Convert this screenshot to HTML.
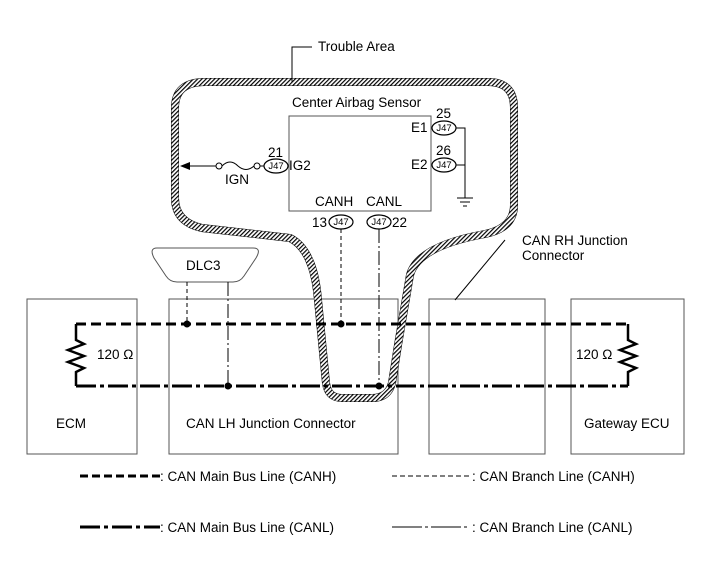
<!DOCTYPE html>
<html><head><style>
body{margin:0;background:#fff}
svg{display:block;font-family:"Liberation Sans",Arial,sans-serif}
</style></head><body>
<svg width="713" height="581" viewBox="0 0 713 581" xmlns="http://www.w3.org/2000/svg">
<defs>
<pattern id="h" width="3" height="3" patternUnits="userSpaceOnUse" patternTransform="rotate(45)">
<rect width="3" height="3" fill="#fff"/><rect width="1.2" height="3" fill="#000"/>
</pattern>
</defs>
<g fill="none" stroke="#555" stroke-width="1">
<rect x="27" y="299" width="110" height="155"/>
<rect x="169" y="299" width="229" height="155"/>
<rect x="429" y="299" width="116" height="155"/>
<rect x="571" y="299" width="113" height="155"/>
<rect x="289" y="116" width="142" height="95"/>
</g>
<path id="ta" d="M205,82 H488 Q514,82 514,108 V205 Q514,228 485,234 Q418,246 410,275 L398,345 L392,383 Q388,398 372,398 H342 Q328,398 326,383 L318,300 Q314,250 290,238 L202,228 Q175,222 175,198 V108 Q175,82 205,82 Z" fill="none" stroke="#000" stroke-width="8"/>
<path d="M205,82 H488 Q514,82 514,108 V205 Q514,228 485,234 Q418,246 410,275 L398,345 L392,383 Q388,398 372,398 H342 Q328,398 326,383 L318,300 Q314,250 290,238 L202,228 Q175,222 175,198 V108 Q175,82 205,82 Z" fill="none" stroke="url(#h)" stroke-width="7"/>
<polyline points="292,82 292,47 312,47" fill="none" stroke="#000" stroke-width="1"/>
<text x="318" y="51" font-size="13.5">Trouble Area</text>
<text x="292" y="107" font-size="13.5">Center Airbag Sensor</text>
<g fill="#fff" stroke="#000" stroke-width="1.2">
<ellipse cx="444" cy="128" rx="12" ry="7"/>
<ellipse cx="444" cy="165" rx="12" ry="7"/>
<ellipse cx="276" cy="166" rx="12" ry="7"/>
<ellipse cx="341" cy="222" rx="12" ry="7"/>
<ellipse cx="379" cy="222" rx="12" ry="7"/>
</g>
<g font-size="9.5" text-anchor="middle">
<text x="444" y="131">J47</text><text x="444" y="168">J47</text><text x="276" y="169">J47</text>
<text x="341" y="225">J47</text><text x="379" y="225">J47</text>
</g>
<g font-size="13.5">
<text x="436" y="118">25</text><text x="436" y="155">26</text>
<text x="411" y="132">E1</text><text x="411" y="169">E2</text>
<text x="268" y="157">21</text><text x="289" y="170">IG2</text>
<text x="315" y="206">CANH</text><text x="366" y="206">CANL</text>
<text x="312" y="227">13</text><text x="392" y="227">22</text>
<text x="225" y="184">IGN</text>
</g>
<g fill="none" stroke="#000" stroke-width="1">
<polyline points="456,128 465,128 465,198"/>
<line x1="456" y1="165" x2="465" y2="165"/>
<line x1="457" y1="198" x2="473" y2="198"/><line x1="460" y1="202" x2="470" y2="202"/><line x1="463" y1="206" x2="467" y2="206"/>
<line x1="190" y1="166" x2="216" y2="166"/>
<circle cx="219" cy="166" r="3"/>
<path d="M222,166 Q230,158 238,166 Q246,173 254,166"/>
<circle cx="257" cy="166" r="3"/>
<line x1="260" y1="166" x2="264" y2="166"/>
</g>
<polygon points="180,166 190,162 190,170" fill="#000"/>
<path d="M157,248 H253 Q262,248 256,258 L244,276 Q240,282 233,282 H177 Q170,282 166,276 L154,258 Q149,248 157,248 Z" fill="#fff" stroke="#555"/>
<text x="186" y="270" font-size="13.5">DLC3</text>
<g fill="none" stroke="#000" stroke-width="1">
<line x1="187" y1="282" x2="187" y2="324" stroke-dasharray="4,3"/>
<line x1="228" y1="282" x2="228" y2="386" stroke-dasharray="14,3,2,3"/>
<line x1="341" y1="229" x2="341" y2="324" stroke-dasharray="4,3"/>
<line x1="379" y1="229" x2="379" y2="386" stroke-dasharray="14,3,2,3"/>
<line x1="455" y1="300" x2="505" y2="240"/>
</g>
<text x="522" y="245" font-size="13.5">CAN RH Junction</text>
<text x="522" y="260" font-size="13.5">Connector</text>
<g fill="none" stroke="#000" stroke-width="3">
<line x1="76" y1="324" x2="628" y2="324" stroke-dasharray="10,5"/>
<line x1="76" y1="386" x2="628" y2="386" stroke-dasharray="20,4,4,4"/>
</g>
<g fill="none" stroke="#000" stroke-width="2.5">
<polyline points="76,324 76,340 84,344 68,350 84,356 68,362 84,368 76,372 76,386"/>
<polyline points="628,324 628,340 636,344 620,350 636,356 620,362 636,368 628,372 628,386"/>
</g>
<g fill="#000"><circle cx="187" cy="324" r="3.5"/><circle cx="341" cy="324" r="3.5"/><circle cx="228" cy="386" r="3.5"/><circle cx="379" cy="386" r="3.5"/></g>
<g font-size="13.5">
<text x="97" y="359">120 Ω</text><text x="576" y="359">120 Ω</text>
<text x="56" y="428">ECM</text>
<text x="186" y="428">CAN LH Junction Connector</text>
<text x="584" y="428">Gateway ECU</text>
</g>
<g fill="none" stroke="#000">
<line x1="80" y1="476" x2="160" y2="476" stroke-width="3" stroke-dasharray="8,4"/>
<line x1="80" y1="527" x2="160" y2="527" stroke-width="3" stroke-dasharray="20,4,4,4"/>
<line x1="392" y1="476" x2="470" y2="476" stroke-width="1" stroke-dasharray="5,3"/>
<line x1="392" y1="527" x2="470" y2="527" stroke-width="1" stroke-dasharray="30,3,3,3"/>
</g>
<g font-size="13.5">
<text x="160" y="481">: CAN Main Bus Line (CANH)</text>
<text x="160" y="532">: CAN Main Bus Line (CANL)</text>
<text x="472" y="481">: CAN Branch Line (CANH)</text>
<text x="472" y="532">: CAN Branch Line (CANL)</text>
</g>
</svg>
</body></html>
